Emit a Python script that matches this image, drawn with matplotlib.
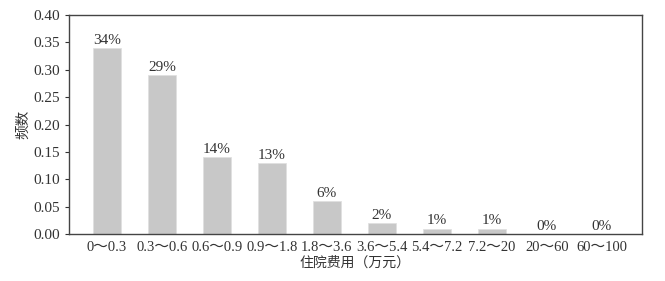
import numpy as np
import matplotlib.pyplot as plt

plt.rcParams['font.family'] = ['Liberation Serif', 'Noto Sans CJK SC']

categories = ["0〜0.3", "0.3〜0.6", "0.6〜0.9", "0.9〜1.8", "1.8〜3.6",
              "3.6〜5.4", "5.4〜7.2", "7.2〜20", "20〜60", "60〜100"]
freq = [0.34, 0.29, 0.14, 0.13, 0.06, 0.02, 0.01, 0.01, 0.00, 0.00]

fig = plt.figure(figsize=(6.65, 2.81), dpi=100)
ax = fig.add_axes([69/665, 1-234/281, (642-69)/665, (234-15)/281])

x = np.arange(len(categories))
ax.bar(x, freq, width=0.5, color="#c8c8c8", edgecolor="#e0e0e0", linewidth=0.6)
for xi, v in zip(x, freq):
    ax.text(xi, v + 0.002, "%d%%" % round(v * 100), ha="center", va="bottom",
            fontsize=11, color="#333333")

ax.set_xlim(-0.69, 9.73)
ax.set_ylim(0, 0.40)
ax.set_yticks(np.arange(0, 0.401, 0.05))
ax.set_yticklabels(["%.2f" % t for t in np.arange(0, 0.401, 0.05)])
ax.set_xticks(x)
ax.set_xticklabels(categories)
ax.tick_params(axis="x", length=0, labelsize=10.5, pad=5, colors="#333333")
ax.tick_params(axis="y", length=3, labelsize=11, colors="#333333")
for s in ax.spines.values():
    s.set_color("#444444")
    s.set_linewidth(1.0)
ax.set_ylabel("频数", fontsize=10.5, color="#333333", labelpad=2)
ax.set_xlabel("住院费用（万元）", fontsize=10, color="#333333", labelpad=2)

fig.savefig("out.png", dpi=100)
